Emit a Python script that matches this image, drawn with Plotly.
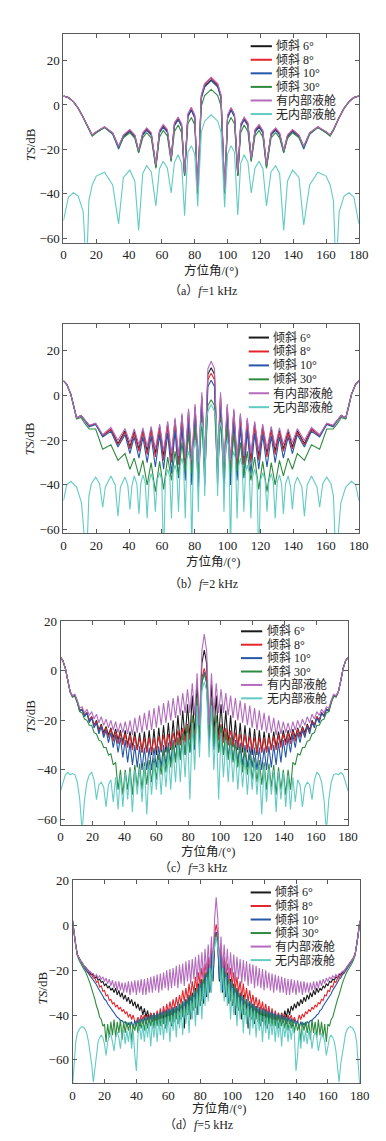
import plotly.graph_objects as go

# ---------------- data ----------------
series_names = ["倾斜 6°", "倾斜 8°", "倾斜 10°", "倾斜 30°", "有内部液舱", "无内部液舱"]
series_colors = ["#1b1b1b", "#e4262c", "#2457a8", "#2e8b3e", "#b46bbd", "#62cbc3"]
x_ticks = [0, 20, 40, 60, 80, 100, 120, 140, 160, 180]
y_ticks = [-60, -40, -20, 0, 20]
captions = ["（a）<i>f</i>=1 kHz", "（b）<i>f</i>=2 kHz", "（c）<i>f</i>=3 kHz", "（d）<i>f</i>=5 kHz"]

# (a) f = 1 kHz
a_angle = [0, 3, 6, 9, 12, 14, 15.5, 17.5, 20, 25, 30, 33.6, 36.5, 40.4, 43.5, 45.8, 48.3, 50.7, 53.5, 56.3,
           58.5, 60.8, 63.3, 65.6, 67.6, 69.9, 72, 73.8, 75.8, 77.9, 80, 81.8, 84, 86, 90,
           94, 96, 98.2, 100, 102.1, 104.2, 106.2, 108, 110.1, 112.4, 114.4, 116.7, 119.2, 121.5, 123.7,
           126.5, 129.3, 131.7, 134.2, 136.5, 139.6, 143.5, 146.4, 150, 155, 160, 162.5, 164.5, 166, 168,
           171, 174, 177, 180]
ts_a_tilt6 = [4.0, 3.3, 1.5, -1.5, -5.5, -8.6, -11.1, -13.6, -12.2, -10, -12.8, -19, -14, -11.6, -14, -21, -13.2, -11, -13.2, -27.5,
              -12.3, -9.6, -12, -24.5, -9, -6.3, -9.5, -31.5, -5, -2, -5.5, -39, 3.5, 8.5, 11.3,
              8.5, 3.5, -39, -5.5, -2, -5, -31.5, -9.5, -6.3, -9, -24.5, -12, -9.6, -12.3, -27.5, -13.2, -11, -13.2, -21, -14,
              -11.6, -14, -19, -12.8, -10, -12.2, -13.6, -11.1, -8.6, -5.5, -1.5, 1.5, 3.3, 4.0]
ts_a_tilt8 = [4.0, 3.3, 1.5, -1.5, -5.5, -8.5, -11, -13.5, -12.1, -9.9, -12.6, -18.8, -13.7, -11.3, -13.8, -20.8, -12.8, -10.6, -12.8, -27.2,
              -11.8, -9.1, -11.4, -24.2, -8.4, -5.8, -9, -31, -4.4, -1.4, -5, -38.5, 4.2, 9.2, 12.2,
              9.2, 4.2, -38.5, -5, -1.4, -4.4, -31, -9, -5.8, -8.4, -24.2, -11.4, -9.1, -11.8, -27.2, -12.8, -10.6, -12.8, -20.8, -13.8,
              -11.3, -13.7, -18.8, -12.6, -9.9, -12.1, -13.5, -11, -8.5, -5.5, -1.5, 1.5, 3.3, 4.0]
ts_a_tilt10 = [4.0, 3.3, 1.5, -1.5, -5.6, -8.7, -11.3, -13.8, -12.4, -10.1, -13.2, -19.8, -14.5, -12, -14.5, -21.3, -13.6, -11.4, -13.6, -28,
               -12.6, -10, -12.4, -25, -9.4, -6.7, -9.8, -32, -5.4, -2.4, -6, -39.5, 3, 8, 11,
               8, 3, -39.5, -6, -2.4, -5.4, -32, -9.8, -6.7, -9.4, -25, -12.4, -10, -12.6, -28, -13.6, -11.4, -13.6, -21.3, -14.5,
               -12, -14.5, -19.8, -13.2, -10.1, -12.4, -13.8, -11.3, -8.7, -5.6, -1.5, 1.5, 3.3, 4.0]
ts_a_tilt30 = [4.0, 3.3, 1.5, -1.5, -5.8, -8.8, -11.5, -14, -12.5, -10.2, -13, -19, -14.8, -12.5, -15, -21.5, -14.8, -12.5, -14.8, -28.5,
               -14.5, -11.5, -14, -25.5, -12, -9, -12.5, -32, -8.5, -5.6, -9, -40, -0.5, 4.2, 7,
               4.2, -0.5, -40, -9, -5.6, -8.5, -32, -12.5, -9, -12, -25.5, -14, -11.5, -14.5, -28.5, -14.8, -12.5, -14.8, -21.5, -15,
               -12.5, -14.8, -19, -13, -10.2, -12.5, -14, -11.5, -8.8, -5.8, -1.5, 1.5, 3.3, 4.0]
ts_a_tank = [4.0, 3.3, 1.5, -1.5, -5.5, -8.5, -11, -13.5, -12, -9.8, -12.5, -18.6, -13.5, -11, -13.5, -20.5, -12.5, -10.3, -12.5, -27,
             -11.5, -8.8, -11, -24, -8, -5.4, -8.5, -30.8, -4, -1.0, -4.5, -38, 4.5, 9.6, 12.5,
             9.6, 4.5, -38, -4.5, -1.2, -4.2, -30.5, -8.5, -5.5, -8, -24, -11, -8.8, -11.5, -27, -12.5, -10.3, -12.5, -20.5, -13.5,
             -11, -13.5, -18.6, -12.5, -9.8, -12, -13.5, -11, -8.5, -5.5, -1.5, 1.5, 3.3, 4.0]
ts_a_notank = [-52, -41.5, -39.5, -41, -48, -75, -43, -36, -32, -30.3, -36, -53.5, -32.6, -29.3, -34.3, -56.4, -30.8, -27.4, -30, -45.4,
               -28.7, -25.3, -28.3, -39.6, -25.8, -22.4, -26.3, -49.8, -21.3, -18.3, -22.1, -45.7, -12.2, -7.3, -4.4,
               -7.3, -12.2, -46, -22.1, -18.3, -21.3, -49.5, -26.3, -22.4, -25.8, -39.6, -28.3, -25.3, -28.7, -45.4, -30, -27.4, -30.8, -56.4, -34.3,
               -29.3, -32.6, -54, -36, -30.3, -32, -36, -43, -75, -48, -41, -39.5, -41.5, -53.5]

# (b) f = 2 kHz
b_angle = [0, 2, 4.5, 6.5, 8, 10.7, 13, 15.7, 19.6, 23.9, 28.9, 33.2, 37.5, 40.5, 43.1, 46, 48.4, 51, 53.4, 56,
           58.6, 61, 63.5, 65.8, 68, 70.1, 72.2, 74.2, 76.2, 78.2, 80.2, 82.2, 84.3, 86.1, 88, 90,
           92, 93.9, 95.7, 97.8, 99.8, 101.8, 103.8, 105.8, 107.8, 109.9, 112, 114.2, 116.5, 119, 121.4, 124, 126.6, 129,
           131.6, 134, 136.9, 139.5, 142.5, 146.8, 151.1, 156.1, 160.4, 164.3, 167, 169.3, 172, 173.5, 175.5, 178, 180]
ts_b_tilt6 = [6.6, 5.0, 0.5, -6, -10, -8.9, -11, -13.5, -12.6, -18, -15, -21.5, -15.8, -23, -16, -24, -15.5, -25, -14.8, -26,
              -13.8, -27, -12.5, -28.5, -11, -30, -9, -31, -7, -32, -5, -33, -0.5, -31, 9.5, 12.4,
              9.5, -31, -0.5, -33, -5, -32, -7, -31, -9, -30, -11, -28.5, -12.5, -27, -13.8, -26, -14.8, -25,
              -15.5, -24, -16, -23, -15.8, -21.5, -15, -18, -12.6, -13.5, -11, -8.9, -10, -6, 0.5, 5.0, 6.6]
ts_b_tilt8 = [6.6, 5.0, 0.5, -6, -10, -8.9, -11, -13.5, -12.8, -18, -15.3, -22, -16.5, -24, -17, -25, -16.5, -26.5, -16, -27.5,
              -15.2, -29, -14, -30, -12.8, -31, -11, -32, -9, -33, -7, -35, -2, -33, 7, 10,
              7, -33, -2, -35, -7, -33, -9, -32, -11, -31, -12.8, -30, -14, -29, -15.2, -27.5, -16, -26.5,
              -16.5, -25, -17, -24, -16.5, -22, -15.3, -18, -12.8, -13.5, -11, -8.9, -10, -6, 0.5, 5.0, 6.6]
ts_b_tilt10 = [6.6, 5.0, 0.5, -6, -10.2, -9, -11.3, -14, -13, -18.5, -16, -23, -17.5, -26, -18.5, -28, -18.5, -30, -18.2, -32,
               -17.5, -33, -16.8, -35, -15.5, -37, -14, -38, -12, -40, -10, -42, -5, -40, 4, 6.8,
               4, -40, -5, -42, -10, -40, -12, -38, -14, -37, -15.5, -35, -16.8, -33, -17.5, -32, -18.2, -30,
               -18.5, -28, -18.5, -26, -17.5, -23, -16, -18.5, -13, -14, -11.3, -9, -10.2, -6, 0.5, 5.0, 6.6]
ts_b_tilt30 = [6.6, 5.0, 0.5, -6.2, -10.5, -9.8, -12.5, -15, -15, -24, -22, -29, -26, -33, -28, -36, -29, -40, -30, -43,
               -29.5, -42, -27.5, -38, -25, -36, -21, -34, -17, -35, -14, -36, -10, -35, -4.5, -1.9,
               -4.5, -35, -10, -36, -14, -35, -17, -34, -21, -36, -25, -38, -27.5, -42, -29.5, -43, -30, -40,
               -29, -36, -28, -33, -26, -29, -22, -24, -15, -15, -12.5, -9.8, -10.5, -6.2, 0.5, 5.0, 6.6]
ts_b_tank = [6.6, 5.0, 0.5, -6, -10, -8.9, -11, -13.3, -12.4, -17.5, -14.3, -20, -14.8, -21, -15, -22, -14.5, -23, -13.8, -24,
             -12.8, -25, -11.5, -26, -10, -27, -8, -28, -5.9, -29, -3.8, -30, 1.5, -28, 12, 15.3,
             12, -28, 1.5, -30, -3.8, -29, -5.9, -28, -8, -27, -10, -26, -11.5, -25, -12.8, -24, -13.8, -23,
             -14.5, -22, -15, -21, -14.8, -20, -14.3, -17.5, -12.4, -13.3, -11, -8.9, -10, -6, 0.5, 5.0, 6.6]
b_angle_notank = [0, 2, 4.5, 8, 11, 14, 15.5, 17, 19.6, 22, 23.9, 25.5, 28.9, 31.5, 33.2, 34.7, 37.5, 39.2, 40.5, 41.7,
                  43.1, 44.7, 46, 47.1, 48.4, 49.8, 51, 52.1, 53.4, 54.8, 56, 57.1, 58.6, 59.9, 61, 62.1, 63.5, 64.8, 65.8, 66.8,
                  68, 69.1, 70.1, 71.1, 72.2, 73.2, 74.2, 75.2, 76.2, 77.2, 78.2, 79.2, 80.2, 81.2, 82.2, 83.2, 84.3, 85.2, 86.1, 87,
                  88, 90,
                  92, 93, 93.9, 94.8, 95.7, 96.8, 97.8, 98.8, 99.8, 100.8, 101.8, 102.8, 103.8, 104.8, 105.8, 106.8, 107.8, 108.9,
                  109.9, 110.9, 112, 113.2, 114.2, 115.2, 116.5, 117.9, 119, 120.1, 121.4, 122.9, 124, 125.2, 126.6, 127.9, 129,
                  130.2, 131.6, 132.9, 134, 135.3, 136.9, 138.3, 139.5, 140.8, 142.5, 145.3, 146.8, 148.5, 151.1, 154.5, 156.1,
                  158, 160.4, 163, 164.5, 166, 169, 172, 175.5, 178, 180]
ts_b_notank = [-47, -40, -38.4, -41, -48, -75, -45, -39.5, -36.5, -39.5, -50, -41, -36, -40, -54, -41, -36.5, -40, -51, -40.5,
               -36, -39.5, -53, -39.5, -35.5, -39, -55, -39, -35, -38.5, -52, -38, -34.5, -38, -75, -37, -33, -36.5, -55, -34.5,
               -31, -34.5, -52, -31.5, -28, -31.5, -55, -28.5, -25, -28.5, -70, -23.5, -20, -23.5, -52, -15.5, -12, -15.5, -45, -11,
               -7, -4,
               -7, -11, -45, -15.5, -12, -15.5, -52, -23.5, -20, -23.5, -70, -28.5, -25, -28.5, -55, -31.5, -28, -31.5,
               -52, -34.5, -31, -34.5, -55, -36.5, -33, -37, -75, -38, -34.5, -38, -52, -38.5, -35, -39, -55,
               -39, -35.5, -39.5, -53, -39.5, -36, -40.5, -51, -40, -36.5, -41, -54, -40, -36, -41, -50,
               -39.5, -36.5, -39.5, -45, -75, -48, -41, -38.4, -40, -47]

# (c) f = 3 kHz
c_angle = [0, 1.5, 3, 4.5, 6, 7.5, 9, 10.5, 12, 13.5, 15, 16.5, 18, 19.5, 21, 22.5, 24, 25.5, 27, 28.5,
           30, 31.5, 33, 34.5, 36, 37.5, 39, 40.5, 42, 43.5, 45, 46.5, 48, 49.5, 51, 52.5, 54, 55.5, 57, 58.5,
           60, 61.5, 63, 64.5, 66, 67.5, 69, 70.5, 72, 73.5, 75, 76.5, 78, 79.5, 81, 82.5, 84, 85.5, 87, 88.5,
           90, 91.5, 93, 94.5, 96, 97.5, 99, 100.5, 102, 103.5, 105, 106.5, 108, 109.5, 111, 112.5, 114, 115.5,
           117, 118.5, 120, 121.5, 123, 124.5, 126, 127.5, 129, 130.5, 132, 133.5, 135, 136.5, 138, 139.5, 141,
           142.5, 144, 145.5, 147, 148.5, 150, 151.5, 153, 154.5, 156, 157.5, 159, 160.5, 162, 163.5, 165, 166.5,
           168, 169.5, 171, 172.5, 174, 175.5, 177, 178.5, 180]
ts_c_tilt6 = [5.5, 4, 1, -4, -8.5, -10.5, -10, -12.5, -16, -15.5,
              -18, -17, -20, -18.5, -22, -20, -24, -21.5, -25, -22.5,
              -26, -23, -27, -23.5, -28, -24, -29, -24, -30, -24.5,
              -31, -24.5, -32, -25, -33, -24.5, -33, -24, -34, -23.5,
              -34, -23, -33, -22, -33, -21, -32, -20, -31, -18,
              -30, -16, -28, -13.5, -27, -10, -26, -5, -25, 3,
              8.4,
              3, -25, -5, -26, -10, -27, -13.5, -28, -16, -30,
              -18, -31, -20, -32, -21, -33, -22, -33, -23, -34,
              -23.5, -34, -24, -33, -24.5, -33, -25, -32, -24.5, -31,
              -24.5, -30, -24, -29, -24, -28, -23.5, -27, -23, -26,
              -22.5, -25, -21.5, -24, -20, -22, -18.5, -20, -17, -18,
              -15.5, -16, -12.5, -10, -10.5, -8.5, -4, 1, 4, 5.5]
ts_c_tilt8 = [5.5, 4, 1, -4, -8.5, -10.5, -10, -12.5, -16, -15.5,
              -18, -17, -20, -18.5, -22, -20.5, -24.5, -22, -26, -23,
              -27, -23.5, -28.5, -24.5, -29.5, -25, -30, -25.5, -31, -26,
              -32, -26.5, -32, -27, -33, -27, -33, -27, -33, -27,
              -32, -26.5, -32, -26, -31, -25.5, -31, -25, -30, -24,
              -30, -23, -29, -21.5, -28, -19, -27, -12, -26, -3,
              1,
              -3, -26, -12, -27, -19, -28, -21.5, -29, -23, -30,
              -24, -30, -25, -31, -25.5, -31, -26, -32, -26.5, -32,
              -27, -33, -27, -33, -27, -33, -27, -32, -26.5, -32,
              -26, -31, -25.5, -30, -25, -29.5, -24.5, -28.5, -23.5, -27,
              -23, -26, -22, -24.5, -20.5, -22, -18.5, -20, -17, -18,
              -15.5, -16, -12.5, -10, -10.5, -8.5, -4, 1, 4, 5.5]
ts_c_tilt10 = [5.5, 4, 1, -4, -8.5, -10.5, -10, -12.5, -16.5, -15.5,
               -18.5, -17, -21, -19, -23, -21, -25.5, -22.5, -27, -24,
               -29, -25, -31, -26, -33, -27, -35, -28, -37, -29,
               -38, -30, -39, -30.5, -40, -31, -40, -31, -40, -31,
               -39, -30.5, -39, -30, -38, -29, -37, -28, -36, -27,
               -35, -25.5, -34, -24, -33, -21, -32, -14, -30, -5,
               -0.5,
               -5, -30, -14, -32, -21, -33, -24, -34, -25.5, -35,
               -27, -36, -28, -37, -29, -38, -30, -39, -30.5, -39,
               -31, -40, -31, -40, -31, -40, -30.5, -39, -30, -38,
               -29, -37, -28, -35, -27, -33, -26, -31, -25, -29,
               -24, -27, -22.5, -25.5, -21, -23, -19, -21, -17, -18.5,
               -15.5, -16.5, -12.5, -10, -10.5, -8.5, -4, 1, 4, 5.5]
ts_c_tilt30 = [5.5, 4, 1, -4, -8.5, -10.5, -10.5, -13, -16.5, -17,
               -19.5, -20, -22, -22, -25, -25.5, -28, -28.5, -31, -31,
               -34, -33.5, -38, -37, -48, -40, -50, -40, -48, -39,
               -50, -38, -47, -37.5, -48, -37, -46, -36, -45, -35,
               -44, -33.5, -42, -32, -41, -30.5, -39, -29, -37, -27,
               -36, -25, -34, -22, -33, -18, -30, -11, -26, -5,
               -1,
               -5, -26, -11, -30, -18, -33, -22, -34, -25, -36,
               -27, -37, -29, -39, -30.5, -41, -32, -42, -33.5, -44,
               -35, -45, -36, -46, -37, -48, -37.5, -47, -38, -50,
               -39, -48, -40, -50, -40, -48, -37, -38, -33.5, -34,
               -31, -31, -28.5, -28, -25.5, -25, -22, -22, -20, -19.5,
               -17, -16.5, -13, -10.5, -10.5, -8.5, -4, 1, 4, 5.5]
ts_c_tank = [5.5, 4, 1, -4, -8.5, -10, -9.5, -12, -15, -14.5,
             -17, -15.5, -18, -16.5, -19.5, -17.5, -21, -18.5, -22, -19.5,
             -23, -20, -24, -20.5, -25, -21, -25, -20.5, -25.5, -20,
             -26, -19, -25, -18, -25, -17, -24, -16, -24, -15,
             -23, -14, -22, -13, -21, -12, -20, -11, -19, -10,
             -18, -9, -17, -7.5, -17, -5, -18, -1, -22, 8,
             14.8,
             8, -22, -1, -18, -5, -17, -7.5, -17, -9, -18,
             -10, -19, -11, -20, -12, -21, -13, -22, -14, -23,
             -15, -24, -16, -24, -17, -25, -18, -25, -19, -26,
             -20, -25.5, -20.5, -25, -21, -25, -20.5, -24, -20, -23,
             -19.5, -22, -18.5, -21, -17.5, -19.5, -16.5, -18, -15.5, -17,
             -14.5, -15, -12, -9.5, -10, -8.5, -4, 1, 4, 5.5]
ts_c_notank = [-48.5, -45, -42, -41, -42, -41.5, -42, -45, -52, -65,
               -52, -45, -42, -41, -44, -52, -46, -45, -47, -55,
               -46, -44, -53, -43, -56, -42, -55, -41, -52, -40.5,
               -57, -40, -50, -39.5, -53, -38.5, -58, -38, -50, -37,
               -48, -36, -50, -35, -47, -33.5, -48, -32, -45, -30,
               -45, -28, -43, -25, -52, -21, -40, -14, -35, -8,
               -4.5,
               -8, -35, -14, -40, -21, -52, -25, -43, -28, -45,
               -30, -45, -32, -48, -33.5, -47, -35, -50, -36, -48,
               -37, -50, -38, -58, -38.5, -53, -39.5, -50, -40, -57,
               -40.5, -52, -41, -55, -42, -56, -43, -53, -44, -46,
               -55, -47, -45, -46, -52, -44, -41, -42, -45, -52,
               -65, -52, -45, -42, -41.5, -42, -41, -42, -45, -48.5]

# (d) f = 5 kHz
d_angle = [0, 1, 2, 3, 4, 5, 6, 7, 8, 9, 10, 11, 12, 13, 14, 15, 16, 17, 18, 19, 20, 21, 22, 23, 24, 25, 26, 27, 28, 29,
           30, 31, 32, 33, 34, 35, 36, 37, 38, 39, 40, 41, 42, 43, 44, 45, 46, 47, 48, 49, 50, 51, 52, 53, 54, 55, 56, 57,
           58, 59, 60, 61, 62, 63, 64, 65, 66, 67, 68, 69, 70, 71, 72, 73, 74, 75, 76, 77, 78, 79, 80, 81, 82, 83, 84, 85,
           86, 87, 88, 89, 90, 91, 92, 93, 94, 95, 96, 97, 98, 99, 100, 101, 102, 103, 104, 105, 106, 107, 108, 109, 110,
           111, 112, 113, 114, 115, 116, 117, 118, 119, 120, 121, 122, 123, 124, 125, 126, 127, 128, 129, 130, 131, 132,
           133, 134, 135, 136, 137, 138, 139, 140, 141, 142, 143, 144, 145, 146, 147, 148, 149, 150, 151, 152, 153, 154,
           155, 156, 157, 158, 159, 160, 161, 162, 163, 164, 165, 166, 167, 168, 169, 170, 171, 172, 173, 174, 175, 176,
           177, 178, 179, 180]
ts_d_tilt6 = [2, -4, -9, -13, -14.5, -16, -16.5, -18, -18.5, -19.5,
              -20.5, -21, -22, -22, -23.5, -23, -24.5, -24, -25.5, -25,
              -27, -26, -28, -27, -29, -28, -30, -28, -31, -29,
              -32, -30, -33, -31, -34, -32, -35, -33, -36, -34,
              -37, -35, -38, -36, -40, -37, -41, -38, -42, -39,
              -44, -39, -45, -40, -44, -39, -45, -39, -46, -38,
              -44, -38, -45, -37, -43, -36, -44, -35, -42, -34,
              -46, -33, -40, -31, -42, -30, -38, -28, -40, -26,
              -36, -24, -35, -21, -32, -17, -30, -12, -25, -8,
              -3,
              -8, -25, -12, -30, -17, -32, -21, -35, -24, -36,
              -26, -40, -28, -38, -30, -42, -31, -40, -33, -46,
              -34, -42, -35, -44, -36, -43, -37, -45, -38, -44,
              -38, -46, -39, -45, -39, -44, -40, -45, -39, -44,
              -39, -42, -38, -41, -37, -40, -36, -38, -35, -37,
              -34, -36, -33, -35, -32, -34, -31, -33, -30, -32,
              -29, -31, -28, -30, -28, -29, -27, -28, -26, -27,
              -25, -25.5, -24, -24.5, -23, -23.5, -22, -22, -21, -20.5,
              -19.5, -18.5, -18, -16.5, -16, -14.5, -13, -9, -4, 2]
ts_d_tilt8 = [2, -4, -9, -13, -14.5, -16, -17, -18, -19, -20,
              -20.5, -22, -22, -23.5, -23.5, -25.5, -25, -27.5, -27, -29.5,
              -29, -31.5, -31, -33.5, -33, -35, -34.5, -36.5, -35.5, -37.5,
              -36.5, -38.5, -37.5, -39.5, -38.5, -41, -39.5, -42, -40, -43,
              -43, -41, -43, -40, -42, -40, -43, -40, -42, -39,
              -43, -39, -42, -38, -42, -37, -41, -36, -40, -35,
              -39, -34, -38, -33, -37, -32, -36, -31, -35, -29,
              -34, -28, -33, -26, -32, -25, -30, -23, -29, -21,
              -27, -19, -25, -17, -23, -14, -21, -10, -16, -4,
              0.5,
              -4, -16, -10, -21, -14, -23, -17, -25, -19, -27,
              -21, -29, -23, -30, -25, -32, -26, -33, -28, -34,
              -29, -35, -31, -36, -32, -37, -33, -38, -34, -39,
              -35, -40, -36, -41, -37, -42, -38, -42, -39, -43,
              -39, -42, -40, -43, -40, -42, -40, -43, -41, -43,
              -43, -40, -42, -39.5, -41, -38.5, -39.5, -37.5, -38.5, -36.5,
              -37.5, -35.5, -36.5, -34.5, -35, -33, -33.5, -31, -31.5, -29,
              -29.5, -27, -27.5, -25, -25.5, -23.5, -23.5, -22, -22, -20.5,
              -20, -19, -18, -17, -16, -14.5, -13, -9, -4, 2]
ts_d_tilt10 = [2, -4, -9, -13, -14.5, -16, -17, -18.5, -19.5, -20.5,
               -21.5, -22, -23.5, -24, -25.5, -26.5, -28, -29, -30.5, -31.5,
               -33, -33.5, -35, -36, -37.5, -38, -39.5, -40, -41, -41.5,
               -42.5, -42.5, -43.5, -43, -45, -43.5, -45, -43, -46, -42.5,
               -45, -42, -46, -41.5, -44, -41, -45, -40.5, -44, -40,
               -45, -39.5, -44, -39, -45, -38.5, -44, -38, -43, -37.5,
               -43, -37, -42, -36.5, -42, -36, -41, -35, -40, -34,
               -41, -33, -38, -32, -39, -31, -37, -29, -36, -27,
               -34, -25, -33, -22, -31, -18, -29, -13, -24, -8,
               -3,
               -8, -24, -13, -29, -18, -31, -22, -33, -25, -34,
               -27, -36, -29, -37, -31, -39, -32, -38, -33, -41,
               -34, -40, -35, -41, -36, -42, -36.5, -42, -37, -43,
               -37.5, -43, -38, -44, -38.5, -45, -39, -44, -39.5, -45,
               -40, -44, -40.5, -45, -41, -44, -41.5, -46, -42, -45,
               -42.5, -46, -43, -45, -43.5, -45, -43, -43.5, -42.5, -42.5,
               -41.5, -41, -40, -39.5, -38, -37.5, -36, -35, -33.5, -33,
               -31.5, -30.5, -29, -28, -26.5, -25.5, -24, -23.5, -22, -21.5,
               -20.5, -19.5, -18.5, -17, -16, -14.5, -13, -9, -4, 2]
ts_d_tilt30 = [2, -4, -9, -13.5, -15.5, -17, -18.5, -19.5, -20.5, -22,
               -24, -26, -28, -31, -33, -36, -38, -41, -42, -45,
               -44, -52, -44, -50, -43, -49, -42, -50, -43, -48,
               -42, -51, -43, -48, -43, -47, -43, -52, -44, -47,
               -43, -48, -42, -46, -42, -47, -41, -46, -41, -45,
               -40, -46, -40, -45, -39.5, -45, -39, -44, -38.5, -45,
               -38, -43, -37.5, -44, -37, -42, -36, -43, -35, -41,
               -34, -42, -33, -40, -31.5, -39, -30, -37, -28, -36,
               -26, -34, -24, -32, -21, -29, -17, -26, -12, -8,
               -4,
               -8, -12, -26, -17, -29, -21, -32, -24, -34, -26,
               -36, -28, -37, -30, -39, -31.5, -40, -33, -42, -34,
               -41, -35, -43, -36, -42, -37, -44, -37.5, -43, -38,
               -45, -38.5, -44, -39, -45, -39.5, -45, -40, -46, -40,
               -45, -41, -46, -41, -47, -42, -46, -42, -48, -43,
               -47, -44, -52, -43, -47, -43, -48, -43, -51, -42,
               -48, -43, -50, -42, -49, -43, -50, -44, -52, -44,
               -45, -42, -41, -38, -36, -33, -31, -28, -26, -24,
               -22, -20.5, -19.5, -18.5, -17, -15.5, -13.5, -9, -4, 2]
ts_d_tank = [2, -4, -9, -13, -14.5, -16, -16.5, -18, -18.5, -19.5,
             -20.5, -20.5, -21.5, -21.5, -23, -22, -23.5, -22.5, -24, -23,
             -25, -23.5, -26, -24, -27, -24.5, -28, -25, -29, -25,
             -29, -25.5, -30, -25.5, -30, -25, -31, -25, -30, -24.5,
             -31, -24.5, -30, -24, -31, -24, -31, -23.5, -30, -23,
             -30, -22.5, -29, -22, -30, -21.5, -29, -21, -28, -20,
             -29, -19.5, -28, -19, -27, -18, -28, -17.5, -26, -17,
             -27, -16, -25, -15.5, -26, -15, -24, -14, -25, -13,
             -23, -12, -24, -10.5, -21, -8.5, -20, -5, -18, 3,
             12.5,
             3, -18, -5, -20, -8.5, -21, -10.5, -24, -12, -23,
             -13, -25, -14, -24, -15, -26, -15.5, -25, -16, -27,
             -17, -26, -17.5, -28, -18, -27, -19, -28, -19.5, -29,
             -20, -28, -21, -29, -21.5, -30, -22, -29, -22.5, -30,
             -23, -30, -23.5, -31, -24, -31, -24, -30, -24.5, -31,
             -24.5, -30, -25, -31, -25, -30, -25.5, -30, -25.5, -29,
             -25, -29, -25, -28, -24.5, -27, -24, -26, -23.5, -25,
             -23, -24, -22.5, -23.5, -22, -23, -21.5, -21.5, -20.5, -20.5,
             -19.5, -18.5, -18, -16.5, -16, -14.5, -13, -9, -4, 2]
ts_d_notank = [-72, -60, -52, -48, -46.5, -45.5, -45.2, -45.5, -46.5, -48.5,
               -52, -57, -62, -70, -63, -56, -52, -50, -49, -50,
               -53, -58, -52, -49, -48.5, -52, -56, -50, -47.5, -50,
               -55, -48, -47, -53, -47, -52, -46, -55, -47, -58,
               -65, -49, -45, -51, -44.5, -52, -44, -50, -43.5, -54,
               -43, -50, -42.5, -52, -42, -49, -41.5, -51, -41, -48,
               -40.5, -52, -40, -47, -39, -50, -38, -46, -37, -49,
               -36, -44, -35, -48, -33.5, -42, -32, -45, -30, -40,
               -28, -42, -26, -36, -23, -34, -19, -30, -14, -10,
               -5,
               -10, -14, -30, -19, -34, -23, -36, -26, -42, -28,
               -40, -30, -45, -32, -42, -33.5, -48, -35, -44, -36,
               -49, -37, -46, -38, -50, -39, -47, -40, -52, -40.5,
               -48, -41, -51, -41.5, -49, -42, -52, -42.5, -50, -43,
               -54, -43.5, -50, -44, -52, -44.5, -51, -45, -49, -65,
               -58, -47, -55, -46, -52, -47, -53, -47, -48, -55,
               -50, -47.5, -50, -56, -52, -48.5, -49, -52, -58, -53,
               -50, -49, -50, -52, -56, -63, -70, -62, -57, -52,
               -48.5, -46.5, -45.5, -45.2, -45.5, -46.5, -48, -52, -60, -72]

panels = [
    dict(angles=[a_angle] * 6,
         ys=[ts_a_tilt6, ts_a_tilt8, ts_a_tilt10, ts_a_tilt30, ts_a_tank, ts_a_notank]),
    dict(angles=[b_angle] * 5 + [b_angle_notank],
         ys=[ts_b_tilt6, ts_b_tilt8, ts_b_tilt10, ts_b_tilt30, ts_b_tank, ts_b_notank]),
    dict(angles=[c_angle] * 6,
         ys=[ts_c_tilt6, ts_c_tilt8, ts_c_tilt10, ts_c_tilt30, ts_c_tank, ts_c_notank]),
    dict(angles=[d_angle] * 6,
         ys=[ts_d_tilt6, ts_d_tilt8, ts_d_tilt10, ts_d_tilt30, ts_d_tank, ts_d_notank]),
]
for p in panels:
    for xs, ys in zip(p["angles"], p["ys"]):
        assert len(xs) == len(ys), (len(xs), len(ys))

# ---------------- layout (pixel geometry) ----------------
W, H = 386, 1141
def px(x): return x / W
def py(y): return 1 - y / H

geo = [
    dict(x0=54.3, x1=360, y0=19, y1=230, yr=[-62, 32],
         leg=(248, 270, 272, 31.5, 13.7), xt=(207, 258), cap=(199, 279), ytl=(20, 131)),
    dict(x0=54.3, x1=360, y0=312, y1=523, yr=[-61.5, 32],
         leg=(246, 267, 269.5, 325.7, 14.06), xt=(209, 552), cap=(199, 575), ytl=(20, 428)),
    dict(x0=51.3, x1=348.7, y0=611.7, y1=817.7, yr=[-62.2, 20.2],
         leg=(238, 260, 262.5, 622.3, 13.54), xt=(204, 845), cap=(188, 861), ytl=(20, 708)),
    dict(x0=63.7, x1=361, y0=873.3, y1=1078.3, yr=[-70.3, 20.3],
         leg=(248, 269, 271.5, 886, 13.66), xt=(215, 1104), cap=(194, 1121), ytl=(33, 982)),
]

SERIF = "Liberation Serif, 'Noto Sans CJK SC', serif"
TXT = "#222222"
AX = "#5a5a5a"

fig = go.Figure()
shapes, annotations = [], []
layout_axes = {}
for k, (g, p) in enumerate(zip(geo, panels)):
    n = "" if k == 0 else str(k + 1)
    xa, ya = "x" + n, "y" + n
    for j in range(6):
        fig.add_trace(go.Scatter(
            x=p["angles"][j], y=p["ys"][j], mode="lines", name=series_names[j],
            line=dict(color=series_colors[j], width=1.1),
            xaxis=xa, yaxis=ya, showlegend=False, hoverinfo="skip"))
    common = dict(showline=True, linecolor=AX, linewidth=1, mirror="ticks", ticks="inside",
                  ticklen=4, tickwidth=1, tickcolor=AX, showgrid=False, zeroline=False,
                  tickfont=dict(family=SERIF, size=13, color=TXT))
    layout_axes["xaxis" + n] = dict(domain=[px(g["x0"]), px(g["x1"])], range=[0, 180],
                                    tickvals=x_ticks, anchor=ya, **common)
    layout_axes["yaxis" + n] = dict(domain=[py(g["y1"]), py(g["y0"])], range=g["yr"],
                                    tickvals=y_ticks, anchor=xa, **common)
    # legend drawn as line samples + text
    l0, l1, tx, r0, dr = g["leg"]
    for j, name in enumerate(series_names):
        yr_ = r0 + j * dr
        shapes.append(dict(type="line", xref="paper", yref="paper",
                           x0=px(l0), x1=px(l1), y0=py(yr_), y1=py(yr_),
                           line=dict(color=series_colors[j], width=2)))
        annotations.append(dict(xref="paper", yref="paper", x=px(tx), y=py(yr_), text=name,
                                showarrow=False, xanchor="left", yanchor="middle",
                                font=dict(family=SERIF, size=12, color=TXT)))
    annotations.append(dict(xref="paper", yref="paper", x=px(g["xt"][0]), y=py(g["xt"][1]),
                            text="方位角/(°)", showarrow=False, xanchor="center", yanchor="middle",
                            borderpad=0, font=dict(family=SERIF, size=12.5, color=TXT)))
    annotations.append(dict(xref="paper", yref="paper", x=px(g["cap"][0]), y=py(g["cap"][1]),
                            text=captions[k], showarrow=False, xanchor="center", yanchor="middle",
                            borderpad=0, font=dict(family=SERIF, size=12, color=TXT)))
    annotations.append(dict(xref="paper", yref="paper", x=px(g["ytl"][0]), y=py(g["ytl"][1]),
                            text="<i>TS</i>/dB", showarrow=False, textangle=-90,
                            xanchor="center", yanchor="middle",
                            font=dict(family=SERIF, size=13, color=TXT)))

fig.update_layout(width=W, height=H, margin=dict(l=0, r=0, t=0, b=0),
                  paper_bgcolor="white", plot_bgcolor="white",
                  shapes=shapes, annotations=annotations, **layout_axes)
fig.write_html("out.html")
